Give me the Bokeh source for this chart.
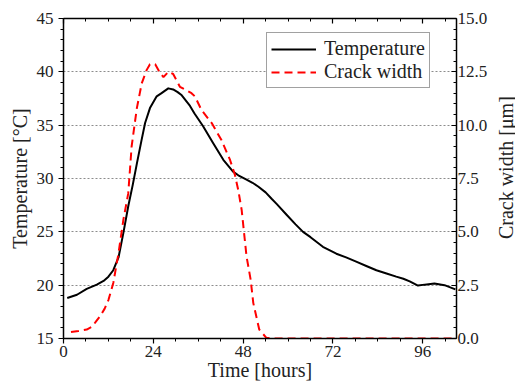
import math
from bokeh.plotting import figure
from bokeh.layouts import row
from bokeh.models import Range1d, LinearAxis, FixedTicker, Legend, LegendItem, PrintfTickFormatter, Label
from bokeh.embed import file_html
from bokeh.resources import INLINE

FONT = "Liberation Serif"

# ---- data ----
time_temp = [1, 3.6, 6.2, 8.9, 10.7, 12, 13.3, 14.7, 16, 17.3, 18.5, 19.6, 20.8, 21.8,
             23.1, 24.9, 26.2, 28, 29.3, 30.5, 31.6, 33.8, 35, 37.3, 40, 42.7, 45.3,
             46.7, 48.9, 50.5, 52, 54, 55.6, 57, 59.6, 62, 64, 66, 69.3, 72.9, 75.5,
             78.2, 80.9, 83.6, 86.3, 88.9, 90.8, 92.5, 94.7, 96.5, 99.1, 101.8, 104.7]
temperature = [18.8, 19.1, 19.65, 20.05, 20.4, 20.8, 21.4, 22.6, 24.9, 27.4, 29.4, 31.4,
               33.5, 35.2, 36.6, 37.7, 38.0, 38.45, 38.35, 38.1, 37.8, 36.8, 36.1, 34.9,
               33.3, 31.75, 30.65, 30.3, 29.9, 29.6, 29.25, 28.7, 28.1, 27.6, 26.6, 25.7,
               25.0, 24.5, 23.6, 22.95, 22.6, 22.2, 21.8, 21.4, 21.1, 20.8, 20.6, 20.36,
               19.96, 20.05, 20.15, 20.0, 19.6]

time_crack = [2, 4, 6.2, 7.6, 8.7, 9.8, 11, 12, 13.3, 14.7, 16, 17.3, 18.2, 19.6, 20.9,
              22.2, 23.1, 24.5, 25.8, 26.7, 28, 29.3, 31.1, 34.2, 35.1, 36.9, 39.6, 42.2,
              44.5, 45.8, 46.7, 47.6, 48.9, 50, 50.7, 52.3, 54.2, 56, 105]
crack_width = [0.3, 0.35, 0.42, 0.55, 0.8, 1.05, 1.4, 1.8, 2.6, 4.0, 5.57, 6.8, 9.0, 10.8,
               11.96, 12.58, 12.86, 12.85, 12.45, 12.25, 12.5, 12.4, 11.8, 11.5, 11.35,
               10.7, 10.1, 9.3, 8.37, 7.67, 6.95, 6.03, 3.85, 2.76, 1.67, 0.42, 0.03, 0, 0]

x_major = [0, 24, 48, 72, 96]
x_minor = [6, 12, 18, 30, 36, 42, 54, 60, 66, 78, 84, 90, 102]
t_major = [15, 20, 25, 30, 35, 40, 45]
t_minor = list(range(15, 46))
w_major = [0, 2.5, 5, 7.5, 10, 12.5, 15]
w_minor = [i * 0.5 for i in range(31)]
grid_lines = [20, 25, 30, 35, 40]

H = 383
p = figure(width=495, height=H, output_backend="svg", toolbar_location=None,
           x_range=Range1d(0, 105), y_range=Range1d(15, 45),
           min_border_left=63, min_border_right=39, min_border_top=18, min_border_bottom=44)
p.extra_y_ranges = {"w": Range1d(0, 15)}
p.outline_line_color = None
p.background_fill_color = "white"
p.border_fill_color = "white"

def style_axis(ax, size="17px"):
    ax.axis_line_color = "black"
    ax.axis_line_width = 1.5
    ax.major_tick_line_color = "black"
    ax.minor_tick_line_color = "black"
    ax.major_tick_line_width = 1.2
    ax.minor_tick_line_width = 1
    ax.major_label_text_font = FONT
    ax.major_label_text_font_size = size
    ax.major_label_text_color = "#222222"
    ax.axis_label_text_font = FONT
    ax.axis_label_text_font_size = "20px"
    ax.axis_label_text_font_style = "normal"
    ax.axis_label_text_color = "#222222"

# bottom axis
xa = p.xaxis[0]
xa.ticker = FixedTicker(ticks=x_major, minor_ticks=x_minor)
xa.axis_label = "Time [hours]"
style_axis(xa)
xa.major_tick_out = 5
xa.major_tick_in = 0
xa.minor_tick_out = 3
xa.minor_tick_in = 0
xa.major_label_standoff = 2
xa.axis_label_standoff = -1

# left axis
ya = p.yaxis[0]
ya.ticker = FixedTicker(ticks=t_major, minor_ticks=t_minor)
ya.axis_label = "Temperature [°C]"
style_axis(ya)
ya.major_tick_out = 5
ya.major_tick_in = 0
ya.minor_tick_out = 3
ya.minor_tick_in = 0
ya.major_label_standoff = 5
ya.axis_label_standoff = 3

# right axis (ticks + tick labels)
ra = LinearAxis(y_range_name="w",
                ticker=FixedTicker(ticks=w_major, minor_ticks=w_minor),
                formatter=PrintfTickFormatter(format="%.1f"))
style_axis(ra)
ra.major_tick_out = 0
ra.major_tick_in = 5
ra.minor_tick_out = 0
ra.minor_tick_in = 3
ra.major_label_standoff = 1
p.add_layout(ra, "right")

# top axis (ticks only)
ta = LinearAxis(ticker=FixedTicker(ticks=x_major, minor_ticks=x_minor))
style_axis(ta, size="1px")
ta.major_label_text_alpha = 0
ta.major_tick_out = 0
ta.major_tick_in = 5
ta.minor_tick_out = 0
ta.minor_tick_in = 3
ta.major_label_standoff = 0
p.add_layout(ta, "above")

p.xgrid.visible = False
p.ygrid.ticker = FixedTicker(ticks=grid_lines)
p.ygrid.grid_line_color = "#8c8c8c"
p.ygrid.grid_line_dash = "2 2"
p.ygrid.grid_line_width = 1

r1 = p.line(time_temp, temperature, line_color="black", line_width=2, line_join="round")
r2 = p.line(time_crack, crack_width, y_range_name="w", line_color="#ff0000",
            line_width=2, line_dash="8 5")

legend = Legend(items=[LegendItem(label="Temperature", renderers=[r1]),
                       LegendItem(label="Crack width", renderers=[r2])],
                location=(203, 250))
legend.label_text_font = FONT
legend.label_text_font_size = "20px"
legend.label_text_color = "#222222"
legend.glyph_width = 45
legend.glyph_height = 20
legend.label_height = 20
legend.label_standoff = 8
legend.spacing = 0
legend.padding = 4
legend.margin = 0
legend.border_line_color = "#444444"
legend.border_line_width = 1.5
legend.background_fill_color = "white"
legend.background_fill_alpha = 1
p.add_layout(legend)

# narrow strip holding the right axis title, reading bottom-to-top
p2 = figure(width=20, height=H, output_backend="svg", toolbar_location=None,
            x_range=Range1d(0, 1), y_range=Range1d(0, H),
            x_axis_type=None, y_axis_type=None, min_border=0)
p2.outline_line_color = None
p2.grid.visible = False
p2.background_fill_color = "white"
p2.border_fill_color = "white"
right_title = Label(x=0.5, y=H - (18 + 321 / 2), text="Crack width [μm]", angle=math.pi / 2,
                    text_font=FONT, text_font_size="20px", text_color="#222222",
                    text_align="center", text_baseline="middle")
p2.add_layout(right_title)

layout = row(p, p2, spacing=0)
open("out.html", "w").write(file_html(layout, INLINE))
